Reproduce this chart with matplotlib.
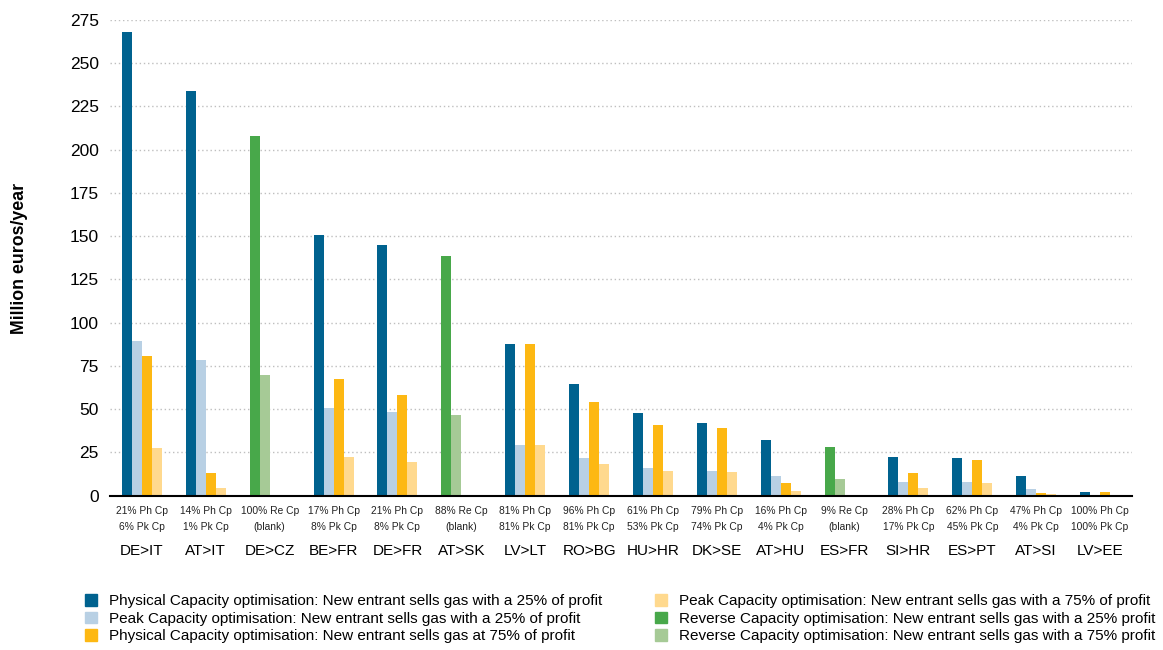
import numpy as np
import matplotlib
matplotlib.use("Agg")
from matplotlib import pyplot as plt
from matplotlib.patches import Patch
import matplotlib.transforms as mtransforms

nan = np.nan

# categories (interconnection points)
categories = ['DE>IT', 'AT>IT', 'DE>CZ', 'BE>FR', 'DE>FR', 'AT>SK', 'LV>LT', 'RO>BG',
              'HU>HR', 'DK>SE', 'AT>HU', 'ES>FR', 'SI>HR', 'ES>PT', 'AT>SI', 'LV>EE']

# Million euros/year
phys_25 = [268.3, 234.2, nan, 150.6, 144.8, nan, 87.5, 64.5, 47.9, 41.7, 31.9, nan, 22.4, 21.8, 11.3, 1.8]
peak_25 = [89.5, 78.3, nan, 50.6, 48.1, nan, 29.2, 21.8, 16.1, 14.2, 11.1, nan, 8.0, 7.8, 3.9, 0.3]
phys_75 = [80.6, 12.8, nan, 67.2, 57.9, nan, 87.5, 54.0, 40.8, 39.0, 7.4, nan, 12.8, 20.5, 1.4, 1.8]
peak_75 = [27.3, 4.5, nan, 22.4, 19.4, nan, 29.2, 18.2, 14.2, 13.4, 2.6, nan, 4.5, 7.0, 0.6, 0.3]
rev_25 = [nan, nan, 207.7, nan, nan, 138.3, nan, nan, nan, nan, nan, 28.0, nan, nan, nan, nan]
rev_75 = [nan, nan, 69.5, nan, nan, 46.4, nan, nan, nan, nan, nan, 9.5, nan, nan, nan, nan]

# small labels under each group
line1 = ['21% Ph Cp', '14% Ph Cp', '100% Re Cp', '17% Ph Cp', '21% Ph Cp', '88% Re Cp',
         '81% Ph Cp', '96% Ph Cp', '61% Ph Cp', '79% Ph Cp', '16% Ph Cp', '9% Re Cp',
         '28% Ph Cp', '62% Ph Cp', '47% Ph Cp', '100% Ph Cp']
line2 = ['6% Pk Cp', '1% Pk Cp', '(blank)', '8% Pk Cp', '8% Pk Cp', '(blank)',
         '81% Pk Cp', '81% Pk Cp', '53% Pk Cp', '74% Pk Cp', '4% Pk Cp', '(blank)',
         '17% Pk Cp', '45% Pk Cp', '4% Pk Cp', '100% Pk Cp']

labels = ['Physical Capacity optimisation: New entrant sells gas with a 25% of profit',
          'Peak Capacity optimisation: New entrant sells gas with a 25% of profit',
          'Physical Capacity optimisation: New entrant sells gas at 75% of profit',
          'Peak Capacity optimisation: New entrant sells gas with a 75% of profit',
          'Reverse Capacity optimisation: New entrant sells gas with a 25% profit',
          'Reverse Capacity optimisation: New entrant sells gas with a 75% profit']
colors = ['#00628F', '#B8D0E4', '#FDB813', '#FFD98E', '#48A84A', '#A6CA96']

plt.rcParams['font.family'] = ['Liberation Sans', 'DejaVu Sans']

fig = plt.figure(figsize=(11.63, 6.5), dpi=100)
ax = fig.add_axes([110 / 1163, 1 - 495.5 / 650, (1132 - 110) / 1163, (495.5 - 20) / 650])

x = np.arange(len(categories))
w = 0.157
# slot offsets inside a group (4 slots)
slots = [-1.5 * w, -0.5 * w, 0.5 * w, 1.5 * w]
series = [phys_25, peak_25, phys_75, peak_75, rev_25, rev_75]
slot_of = [0, 1, 2, 3, 0, 1]
for vals, s, c in zip(series, slot_of, colors):
    ax.bar(x + slots[s], vals, w, color=c, linewidth=0)

ax.set_xlim(-0.5, len(categories) - 0.5)
ax.set_ylim(0, 275)
ax.set_yticks(np.arange(0, 276, 25))
ax.yaxis.grid(True, linestyle=(0, (1, 2)), color='#BFBFBF', linewidth=1)
ax.set_axisbelow(True)
for sp in ['top', 'right', 'left']:
    ax.spines[sp].set_visible(False)
ax.spines['bottom'].set_color('black')
ax.spines['bottom'].set_linewidth(1.5)
ax.tick_params(axis='y', length=0, labelsize=12.5, pad=8)
ax.tick_params(axis='x', length=0, labelbottom=False)

fig.text(20 / 1163, 1 - 258 / 650, 'Million euros/year', rotation=90, ha='center', va='center',
         fontsize=12.8, fontweight='bold')

trans = mtransforms.blended_transform_factory(ax.transData, fig.transFigure)
for i in range(len(categories)):
    ax.text(x[i], 1 - 511 / 650, line1[i], transform=trans, ha='center', va='center',
            fontsize=7.4, color='#222222')
    ax.text(x[i], 1 - 527 / 650, line2[i], transform=trans, ha='center', va='center',
            fontsize=7.4, color='#222222')
    ax.text(x[i], 1 - 551 / 650, categories[i], transform=trans, ha='center', va='center',
            fontsize=11, color='black')

handles = [Patch(color=c, label=l) for c, l in zip(colors, labels)]
fig.legend(handles=handles, ncol=2, loc='upper left', bbox_to_anchor=(85 / 1163, 1 - 594 / 650),
           frameon=False, fontsize=11, handlelength=0.8, handleheight=0.8,
           handletextpad=0.8, columnspacing=3.4, labelspacing=0.22,
           borderpad=0, borderaxespad=0)

plt.savefig("out.png", dpi=100)
